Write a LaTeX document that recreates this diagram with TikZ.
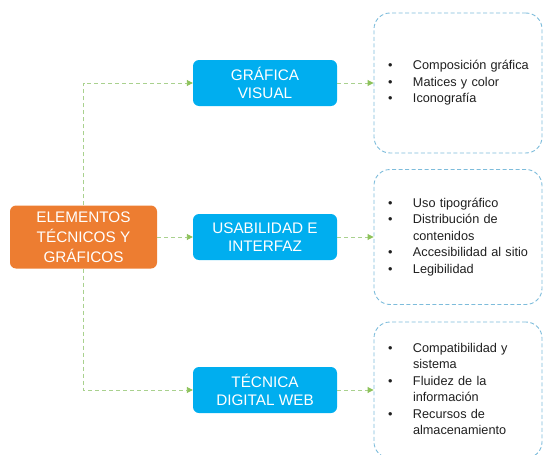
\documentclass[tikz,border=0pt]{standalone}
\usepackage{fontspec}
\setmainfont{Liberation Sans}
\usepackage{tikz}
\usetikzlibrary{arrows.meta}
\usetikzlibrary{positioning}

\definecolor{naranja}{HTML}{ED7D31}
\definecolor{celeste}{HTML}{00AEEF}
\definecolor{borde}{HTML}{7DBCDB}
\definecolor{verde}{HTML}{A9D18E}
\definecolor{verdeflecha}{HTML}{8DC25A}

\newenvironment{puntos}{\begin{tabular}{@{}p{25pt}@{}l@{}}}{\end{tabular}}

\tikzset{
  raiz/.style={fill=naranja,rounded corners=6pt,text=white,inner sep=0pt,
    minimum width=147pt,minimum height=63pt,align=center,
    font=\fontsize{15.3}{20}\selectfont},
  rama/.style={fill=celeste,rounded corners=6pt,text=white,inner sep=0pt,
    minimum width=144pt,minimum height=46pt,align=center,
    font=\fontsize{15.3}{18.5}\selectfont},
  lista/.style={draw=borde,line width=0.9pt,dash pattern=on 4pt off 2.5pt,
    rounded corners=16pt,minimum width=168pt,text width=140pt,
    inner xsep=14pt,inner ysep=0pt,align=left,text=black!88,
    font=\fontsize{12.7}{16.5}\selectfont}, 
  enlace/.style={draw=verde,line width=0.9pt,dash pattern=on 4pt off 3pt,
    -{Triangle[length=6pt,width=6pt,color=verdeflecha]}}
}

\begin{document}
\begin{tikzpicture}[x=1pt,y=-1pt]
\useasboundingbox (0,0) rectangle (544,455);
% cajas principales
\node[raiz] (elementos) at (83.5,237) {ELEMENTOS\\TÉCNICOS Y\\GRÁFICOS};
\node[rama] (grafica) at (265,83) {GRÁFICA\\VISUAL};
\node[rama] (usabilidad) at (265,237) {USABILIDAD E\\INTERFAZ};
\node[rama] (tecnica) at (265,390) {TÉCNICA\\DIGITAL WEB};
% listas
\node[lista,minimum height=140pt] (lgrafica) at (458,83)
  {\begin{puntos}
   \textbullet & Composición gráfica\\ \textbullet & Matices y color\\
   \textbullet & Iconografía
   \end{puntos}};
\node[lista,minimum height=135pt] (lusabilidad) at (458,237)
  {\begin{puntos}
   \textbullet & Uso tipográfico\\ \textbullet & Distribución de\\
   & contenidos\\ \textbullet & Accesibilidad al sitio\\
   \textbullet & Legibilidad
   \end{puntos}};
\node[lista,minimum height=136pt] (ltecnica) at (458,390)
  {\begin{puntos}
   \textbullet & Compatibilidad y\\ & sistema\\ \textbullet & Fluidez de la\\
   & información\\ \textbullet & Recursos de\\ & almacenamiento
   \end{puntos}};
% conectores
\draw[enlace] (elementos.north) |- (grafica.west);
\draw[enlace] (elementos.east) -- (usabilidad.west);
\draw[enlace] (elementos.south) |- (tecnica.west);
\draw[enlace] (grafica.east) -- (lgrafica.west);
\draw[enlace] (usabilidad.east) -- (lusabilidad.west);
\draw[enlace] (tecnica.east) -- (ltecnica.west);
\end{tikzpicture}
\end{document}
